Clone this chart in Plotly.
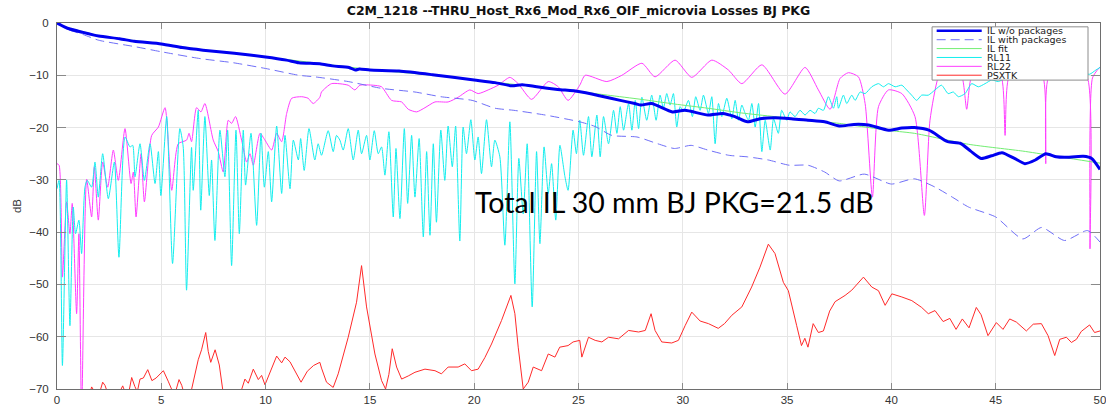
import plotly.graph_objects as go

# ---------------- data ----------------
title_text = "C2M_1218 --THRU_Host_Rx6_Mod_Rx6_OIF_microvia Losses BJ PKG"
x_ticks = [0, 5, 10, 15, 20, 25, 30, 35, 40, 45, 50]
y_ticks = [-70, -60, -50, -40, -30, -20, -10, 0]
x_label = "GHz"
y_label = "dB"
note_text = "Total IL 30 mm BJ PKG=21.5 dB"

il_wo_x = [0, 0.5, 1.25, 2, 3, 3.7, 5, 6, 7, 8.5, 10, 11, 11.6, 12.6, 13.2, 14.0, 14.3, 14.5, 15,
           16.4, 18, 20, 21, 21.8, 22.3, 23, 24, 25, 26, 27, 27.7, 28.0, 28.5, 29.5, 30.1, 31.2,
           31.9, 32.5, 33.1, 33.7, 34.4, 35.2, 36, 36.8, 37.5, 38.2, 38.9, 39.86, 40.5, 41.1,
           41.8, 42.7, 43.3, 43.8, 44.3, 44.8, 45.3, 45.9, 46.4, 46.9, 47.4, 47.9, 48.3, 49.2,
           49.6, 50]
il_wo_y = [0, -1.0, -1.8, -2.5, -3.0, -3.5, -4.0, -4.7, -5.2, -5.8, -6.5, -7.1, -7.6, -7.8, -8.2,
           -8.5, -9.0, -8.8, -9.0, -9.2, -9.9, -10.9, -11.4, -12.0, -11.8, -12.2, -12.7, -13.1,
           -13.9, -14.8, -15.4, -15.7, -15.4, -17.0, -16.7, -17.6, -17.3, -17.9, -18.9, -18.3,
           -18.1, -18.3, -18.6, -18.9, -19.7, -19.4, -19.5, -20.5, -20.1, -20.0, -20.5, -22.7,
           -23.0, -24.5, -25.9, -25.4, -24.8, -25.9, -26.9, -26.2, -25.0, -25.6, -25.7, -25.5,
           -25.9, -28.0]

il_with_x = [0, 0.5, 1.25, 2, 3.7, 5, 6.85, 8.45, 10, 11.6, 12.36, 13.96, 15.56, 17.16, 18.4,
             19.9, 21.0, 21.9, 23.4, 25.06, 25.8, 26.6, 27.8, 28.8, 29.6, 30.4, 31.2, 32.2,
             33.1, 34.1, 35.1, 36.0, 36.8, 37.5, 38.7, 40.0, 41.1, 42.1, 43.0, 43.7, 45.0,
             46.3, 47.2, 48.3, 49.4, 50]
il_with_y = [0, -1.2, -2.2, -3.3, -4.5, -5.5, -6.8, -7.6, -8.7, -10.0, -10.3, -11.2, -12.5,
             -13.2, -14.1, -14.8, -16.3, -16.7, -17.6, -18.9, -19.8, -21.5, -21.8, -23.1,
             -24.0, -23.4, -24.3, -25.3, -25.6, -26.2, -27.2, -27.2, -28.5, -30.2, -28.9,
             -30.8, -29.8, -31.4, -33.5, -35.2, -37.1, -41.3, -39.1, -41.6, -39.7, -41.9]

il_fit_x = [0, 0.5, 1, 2, 3, 5, 7.5, 10, 12.5, 15, 17.5, 20, 22.5, 25, 26.4, 28, 29.6, 31.2,
            32.8, 34.4, 36, 37.5, 40, 41.1, 43.7, 46.3, 47.6, 50]
il_fit_y = [0, -0.9, -1.4, -2.4, -3.0, -4.0, -5.4, -6.5, -7.7, -8.9, -9.8, -10.9, -12.0, -13.1,
            -13.8, -14.6, -15.5, -16.3, -17.2, -17.9, -18.6, -19.2, -20.6, -21.1, -23.2,
            -24.5, -25.3, -26.8]

rl11_x = [0, 0.10, 0.26, 0.46, 0.62, 0.78, 0.89, 1.05, 1.18, 1.34, 1.45, 1.66, 1.82, 1.98,
          2.19, 2.46, 2.75, 2.97, 3.26, 3.50, 3.63, 3.74, 3.98, 4.19, 4.46, 4.70, 4.86, 4.98,
          5.26, 5.54, 5.89, 6.05, 6.21, 6.45, 6.53, 6.77, 6.89, 7.09, 7.30, 7.41, 7.57, 7.81,
          8.05, 8.18, 8.37, 8.58, 8.74, 8.93, 9.04, 9.30, 9.57, 9.78, 9.94, 10.13, 10.29,
          10.53, 10.77, 10.93, 11.17, 11.33, 11.57, 11.68, 11.85, 12.08, 12.36, 12.52, 12.68,
          13.00, 13.24, 13.40, 13.56, 13.72, 13.96, 14.20, 14.44, 14.60, 14.84, 15.00, 15.21,
          15.40, 15.56, 15.72, 15.91, 16.12, 16.25, 16.44, 16.65, 16.81, 17.00, 17.16, 17.36,
          17.56, 17.72, 17.88, 18.04, 18.19, 18.40, 18.59, 18.75, 18.95, 19.11, 19.31, 19.47,
          19.63, 19.84, 20.03, 20.19, 20.35, 20.59, 20.83, 20.99, 21.23, 21.47, 21.71, 21.95,
          22.14, 22.35, 22.54, 22.78, 22.99, 23.15, 23.35, 23.55, 23.71, 23.91, 24.11, 24.35,
          24.50, 24.74, 24.90, 25.06, 25.24, 25.48, 25.64, 25.88, 26.04, 26.20, 26.44, 26.68,
          26.84, 27.00, 27.16, 27.40, 27.56, 27.72, 27.88, 28.04, 28.27, 28.51, 28.72, 28.91,
          29.07, 29.23, 29.39, 29.55, 29.71, 29.87, 30.03, 30.27, 30.46, 30.62, 30.83, 30.99,
          31.23, 31.39, 31.55, 31.71, 31.87, 32.11, 32.35, 32.51, 32.67, 32.83, 32.99, 33.15,
          33.31, 33.47, 33.63, 33.79, 33.95, 34.19, 34.35, 34.58, 34.74, 34.98, 35.14, 35.38,
          35.62, 35.86, 36.10, 36.34, 36.50, 36.74, 36.98, 37.22, 37.38, 37.46, 37.70, 37.86,
          38.10, 38.26, 38.50, 38.74, 39.06, 39.38, 39.62, 39.86, 40.18, 40.50, 40.73, 40.97,
          41.21, 41.45, 41.77, 42.09, 42.40, 42.72, 42.97, 43.21, 43.53, 43.85, 44.17, 44.49,
          44.81, 45.13, 45.45, 46.0, 46.5, 47.0, 47.5, 48.0, 48.5, 49.0, 49.5, 49.8, 50.0]
rl11_y = [-31.7, -30.1, -65.5, -30.0, -57.9, -35.2, -40.3, -37.7, -44.1, -31.4, -30.1, -31.4,
          -26.6, -33.3, -25.0, -33.6, -26.6, -44.8, -21.8, -23.7, -23.4, -29.4, -23.1, -30.1,
          -23.1, -30.7, -24.6, -33.0, -17.9, -46.0, -20.2, -23.7, -51.1, -23.8, -32.0, -16.7,
          -35.8, -17.9, -33.0, -26.2, -41.6, -20.5, -29.4, -20.5, -46.4, -20.5, -40.3, -20.5,
          -31.0, -21.1, -38.7, -21.1, -31.4, -24.6, -34.2, -19.7, -32.6, -21.5, -31.7, -22.4,
          -26.2, -22.1, -28.2, -20.2, -26.2, -23.1, -25.3, -20.6, -24.6, -21.5, -22.4, -24.3,
          -20.2, -26.2, -20.5, -25.0, -21.5, -26.2, -20.6, -25.0, -23.7, -29.1, -20.8, -37.1,
          -24.0, -37.4, -20.2, -34.5, -21.5, -33.3, -22.1, -40.9, -24.6, -40.6, -23.1, -38.1,
          -20.5, -30.1, -19.7, -27.5, -19.7, -41.7, -19.9, -25.0, -18.5, -26.2, -21.8, -28.8,
          -18.5, -27.5, -22.4, -25.6, -42.5, -18.9, -49.9, -25.9, -36.5, -23.1, -54.3, -24.6,
          -42.2, -23.7, -32.6, -26.9, -37.7, -23.4, -29.4, -32.0, -20.5, -25.0, -18.6, -25.3,
          -17.9, -25.6, -17.6, -25.6, -17.9, -23.1, -16.7, -21.1, -16.0, -20.5, -15.4, -20.5,
          -14.8, -20.2, -14.2, -18.6, -13.8, -18.6, -13.8, -16.3, -13.5, -15.7, -13.5, -19.9,
          -16.0, -17.0, -14.8, -17.9, -14.1, -16.7, -13.8, -17.3, -14.1, -23.1, -15.4, -17.9,
          -14.4, -18.3, -14.8, -18.6, -15.7, -17.3, -18.6, -15.4, -19.9, -15.4, -24.6, -18.6,
          -24.3, -18.3, -21.1, -16.7, -18.6, -17.0, -17.9, -16.7, -17.6, -16.7, -17.3, -16.3,
          -16.7, -14.1, -16.3, -14.1, -16.3, -13.8, -15.4, -13.8, -14.8, -13.2, -13.5, -12.2,
          -11.6, -12.2, -11.6, -12.2, -11.9, -12.8, -13.8, -14.8, -13.8, -13.8, -12.8, -11.9,
          -13.5, -13.2, -14.1, -13.5, -11.6, -12.2, -11.6, -10.9, -11.2, -10.6, -10.5, -10.8,
          -10.2, -10.5, -9.8, -10.2, -9.5, -9.8, -9.0, -8.5]

rl22_x = [0, 0.10, 0.26, 0.46, 0.62, 0.73, 0.94, 1.05, 1.18, 1.42, 1.66, 1.79, 1.98, 2.19,
          2.43, 2.70, 2.94, 3.26, 3.55, 3.66, 3.79, 4.03, 4.19, 4.54, 4.86, 5.18, 5.50, 5.81,
          6.21, 6.33, 6.45, 6.69, 6.90, 7.09, 7.49, 7.73, 7.97, 8.21, 8.37, 8.56, 8.85, 9.09,
          9.25, 9.41, 9.73, 9.97, 10.29, 10.53, 10.77, 11.01, 11.25, 11.73, 12.04, 12.28,
          12.60, 12.68, 13.16, 13.96, 14.28, 14.52, 15.16, 15.56, 16.04, 16.52, 16.84, 17.24,
          17.64, 18.12, 18.75, 19.23, 19.79, 20.19, 20.67, 21.15, 21.71, 22.11, 22.75, 23.55,
          24.03, 24.50, 25.06, 25.32, 26.36, 27.08, 28.04, 28.67, 29.63, 30.43, 31.39, 32.19,
          32.83, 33.79, 34.90, 35.86, 36.50, 37.06, 37.54, 37.94, 38.42, 38.74, 39.09, 39.38,
          39.86, 40.50, 41.13, 41.58, 41.85, 42.25, 42.8, 43.40, 43.61, 43.82, 44.5, 45.28,
          45.45, 45.62, 46.5, 47.28, 47.40, 47.52, 48.5, 49.40, 49.52, 49.64, 50.0]
rl22_y = [-26.9, -27.2, -48.6, -34.2, -40.3, -34.5, -55.6, -40.3, -75.0, -29.9, -37.1, -27.5,
          -37.7, -26.6, -31.4, -24.3, -30.1, -20.2, -30.7, -28.5, -37.1, -25.0, -34.2, -21.5,
          -19.9, -16.2, -32.0, -23.1, -22.4, -21.1, -22.7, -16.2, -17.0, -15.4, -22.4, -24.6,
          -28.5, -18.6, -19.2, -17.9, -22.4, -26.6, -25.0, -27.2, -21.1, -22.4, -24.3, -21.1,
          -22.7, -17.3, -14.4, -14.1, -14.4, -15.4, -14.2, -13.2, -11.6, -11.9, -12.8, -11.9,
          -11.9, -12.2, -14.8, -15.1, -16.5, -17.0, -16.2, -15.1, -15.1, -14.2, -12.8, -13.5,
          -12.8, -11.9, -10.4, -11.6, -14.6, -11.2, -12.2, -14.8, -11.9, -10.0, -11.2, -10.0,
          -7.7, -10.3, -7.1, -10.4, -7.1, -9.0, -11.6, -8.0, -13.6, -8.5, -12.8, -16.5, -10.6,
          -9.5, -10.3, -15.4, -33.3, -16.0, -12.8, -13.5, -17.9, -36.8, -18.6, -10.3, -6.5,
          -10.5, -16.5, -10.5, -6.5, -10.5, -21.5, -10.5, -6.5, -10.5, -26.9, -10.5, -6.5,
          -10.5, -43.2, -10.5, -8.4]

psxtk_x = [0, 1.5, 1.66, 1.8, 1.95, 2.19, 2.3, 2.45, 2.8, 3.05, 3.15, 3.3, 3.45, 3.58, 3.73,
           3.85, 3.98, 4.14, 4.35, 4.55, 4.75, 5.1, 5.33, 5.49, 5.65, 5.85, 5.98, 6.1, 6.4,
           6.77, 6.93, 7.13, 7.25, 7.37, 7.58, 7.78, 7.94, 8.1, 8.7, 9.01, 9.17, 9.41, 9.65,
           9.81, 9.97, 10.2, 10.53, 10.77, 10.93, 11.17, 11.5, 11.7, 12.0, 12.3, 12.6, 12.68,
           12.92, 13.24, 13.48, 13.96, 14.36, 14.6, 14.84, 15.24, 15.56, 15.75, 15.91, 16.07,
           16.28, 16.52, 16.84, 17.16, 17.64, 18.12, 18.43, 18.75, 19.23, 19.55, 19.87, 20.19,
           20.51, 20.83, 21.31, 21.76, 21.95, 22.11, 22.35, 22.59, 22.83, 23.23, 23.55, 23.87,
           24.1, 24.5, 24.74, 25.06, 25.16, 25.48, 25.8, 26.12, 26.44, 26.92, 27.4, 27.88,
           28.2, 28.48, 28.67, 28.99, 29.47, 29.79, 30.11, 30.43, 30.83, 31.23, 31.7, 32.0,
           32.35, 32.83, 33.3, 33.7, 34.1, 34.42, 34.82, 35.06, 35.46, 35.69, 35.85, 36.0,
           36.25, 36.5, 36.74, 37.04, 37.3, 37.78, 38.1, 38.66, 39.06, 39.38, 39.7, 40.02,
           40.5, 40.98, 41.45, 41.77, 42.09, 42.48, 42.8, 43.1, 43.4, 43.72, 44.07, 44.3,
           44.63, 45.03, 45.35, 45.67, 45.99, 46.47, 46.8, 47.19, 47.51, 47.83, 48.07, 48.39,
           48.63, 48.87, 49.1, 49.5, 49.74, 50.0]
psxtk_y = [-80, -72, -69.6, -70.5, -72, -68.7, -69.3, -71, -71, -70.2, -69.4, -71, -70.5, -67.8,
           -69.5, -70.5, -68.1, -67.9, -66.3, -68.4, -67.9, -66.5, -68.5, -70, -71, -68.2,
           -69.3, -71, -71, -64.4, -62.5, -59.2, -62.8, -64.9, -62.5, -65.4, -70, -72, -72,
           -68.1, -68.9, -66.2, -68.2, -67.4, -69.2, -67, -63.7, -65, -63.9, -64.8, -67.3,
           -68.7, -66.6, -65.5, -64.9, -66, -68.7, -69.7, -67.1, -60.1, -53.4, -46.4, -54.3,
           -63.3, -68.4, -70.0, -67.2, -62.3, -65.8, -68.1, -67.5, -66.8, -66.2, -66.5, -67.1,
           -65.8, -65.8, -65.2, -66.5, -66.2, -64.0, -61.4, -56.9, -52.1, -55.6, -62.0, -70.0,
           -68.7, -65.8, -66.5, -63.3, -63.9, -62.0, -61.7, -61.0, -60.7, -63.9, -60.1, -60.7,
           -61.0, -60.1, -60.4, -58.8, -59.1, -58.8, -55.6, -58.8, -61.0, -61.2, -60.7, -57.9,
           -55.3, -57.0, -57.5, -58.4, -57.5, -55.9, -54.3, -50.5, -46.7, -42.3, -44.1, -49.6,
           -51.2, -57.9, -61.7, -60.3, -62.0, -57.5, -59.2, -58.9, -55.1, -53.3, -52.1, -51.1,
           -48.6, -50.5, -51.2, -54.0, -51.8, -52.4, -53.1, -54.4, -55.6, -55.0, -57.1, -56.5,
           -58.6, -56.6, -58.3, -54.4, -55.8, -59.8, -57.3, -58.6, -56.6, -57.2, -58.9, -57.6,
           -57.5, -59.8, -63.6, -60.5, -60.1, -61.1, -60.5, -59.0, -57.75, -59.2, -58.9]

# ---------------- styles ----------------
series = [
    dict(name="IL w/o packages", x=il_wo_x, y=il_wo_y, color="#0000f0", width=3,
         dash="solid", shape="spline"),
    dict(name="IL with packages", x=il_with_x, y=il_with_y, color="#6f6ff8", width=1,
         dash="9px,5px", shape="spline"),
    dict(name="IL fit", x=il_fit_x, y=il_fit_y, color="#72ee72", width=1,
         dash="solid", shape="spline"),
    dict(name="RL11", x=rl11_x, y=rl11_y, color="#12eeee", width=1,
         dash="solid", shape="spline"),
    dict(name="RL22", x=rl22_x, y=rl22_y, color="#ff3cff", width=1,
         dash="solid", shape="spline"),
    dict(name="PSXTK", x=psxtk_x, y=psxtk_y, color="#ff2a2a", width=1,
         dash="solid", shape="linear"),
]
draw_order = [5, 4, 3, 1, 2, 0]

fig = go.Figure()
for i in draw_order:
    s = series[i]
    line = dict(color=s["color"], width=s["width"], dash=s["dash"], shape=s["shape"])
    if s["shape"] == "spline":
        line["smoothing"] = 0.6
    fig.add_trace(go.Scatter(x=s["x"], y=s["y"], mode="lines", name=s["name"],
                             line=line, showlegend=False))

# compact MATLAB-style legend box (top right)
L, R, T, B = 0.839, 0.9885, 0.9895, 0.844
shapes = [dict(type="rect", xref="paper", yref="paper", x0=L, x1=R, y0=B, y1=T,
               fillcolor="white", line=dict(color="#8c8c8c", width=1), layer="above")]
annotations = []
row_h = (T - B) / 6.0
for k, s in enumerate(series):
    yk = T - row_h * (k + 0.45)
    shapes.append(dict(type="line", xref="paper", yref="paper", x0=0.8434, x1=0.8866,
                       y0=yk, y1=yk, layer="above",
                       line=dict(color=s["color"], width=min(s["width"], 2.5),
                                 dash=s["dash"])))
    annotations.append(dict(xref="paper", yref="paper", x=0.8897, y=yk, text=s["name"],
                            showarrow=False, xanchor="left", yanchor="middle",
                            font=dict(family="DejaVu Sans", size=9.5, color="#1a1a1a")))

annotations.append(dict(x=29.6, y=-34.3, xref="x", yref="y", text=note_text, showarrow=False,
                        xanchor="center", yanchor="middle",
                        font=dict(family="Lato", size=28.5, color="#000000")))

# x-axis title sits just below the tick labels and is cut by the bottom edge, as in the image
annotations.append(dict(x=0.5, y=-0.04, xref="paper", yref="paper", text=x_label,
                        showarrow=False, xanchor="center", yanchor="top", borderpad=0,
                        font=dict(family="Liberation Sans", size=11.5, color="#333333")))

axis_common = dict(showline=True, linecolor="#6e6e6e", linewidth=1, mirror="ticks",
                   ticks="inside", tickcolor="#8a8a8a", showgrid=True, gridcolor="#e6e6e6",
                   gridwidth=1, zeroline=False, automargin=False, ticklabeloverflow="allow",
                   tickfont=dict(family="Liberation Sans", size=11.5, color="#333333"))

fig.update_layout(
    width=1106, height=406,
    margin=dict(l=57, r=6, t=23, b=17, autoexpand=False),
    paper_bgcolor="white", plot_bgcolor="white",
    title=dict(text="<b>" + title_text + "</b>", x=0.5, xref="paper", y=0.975, yanchor="middle",
               font=dict(family="DejaVu Sans", size=12.5, color="#111111")),
    xaxis=dict(range=[0, 50], tickvals=x_ticks, ticklen=6, **axis_common),
    yaxis=dict(range=[-70, 0], tickvals=y_ticks, ticklen=9, ticklabelstandoff=5,
               title=dict(text=y_label, standoff=5,
                          font=dict(family="Liberation Sans", size=11.5, color="#333333")),
               **axis_common),
    shapes=shapes,
    annotations=annotations,
    showlegend=False,
)

fig.write_html("out.html")
